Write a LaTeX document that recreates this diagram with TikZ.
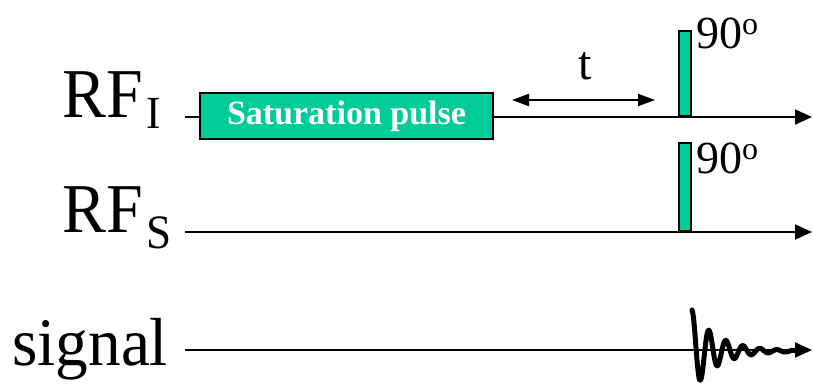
\documentclass[tikz,border=0pt]{standalone}
\usepackage{fontspec}
\setmainfont{Liberation Serif}
\usetikzlibrary{arrows.meta}
\definecolor{pulsegreen}{RGB}{0,204,153}
\begin{document}
\begin{tikzpicture}[x=1pt,y=-1pt,
  axis/.style={line width=2pt,-{Triangle[length=17pt,width=15pt]}},
  pulsebox/.style={draw=black,line width=2pt,fill=pulsegreen,inner sep=0pt},
  lbl/.style={anchor=base west,inner sep=0pt},
  tarrow/.style={line width=2pt,{Triangle[length=17pt,width=12pt]}-{Triangle[length=17pt,width=12pt]}},
]
\useasboundingbox (0,0) rectangle (813,386);
% axes
\coordinate (i0) at (185,117); \coordinate (i1) at (812,117);
\coordinate (s0) at (185,232); \coordinate (s1) at (812,232);
\coordinate (g0) at (185,350); \coordinate (g1) at (812,350);
\draw[axis] (i0) -- (i1);
\draw[axis] (s0) -- (s1);
\draw[axis] (g0) -- (g1);
% saturation pulse
\node[pulsebox, line width=2.5pt, minimum width=293pt, minimum height=46pt, text=white, font=\fontsize{34}{34}\selectfont\bfseries] (sat) at (346.5,116) {Saturation pulse};
% 90 degree pulses
\node[pulsebox, minimum width=12pt, minimum height=85pt, anchor=south west] (p1) at (678,117) {};
\node[pulsebox, minimum width=12pt, minimum height=88pt, anchor=south west] (p2) at (678,232) {};
\node[lbl] (d1) at (696,48) {\fontsize{46}{46}\selectfont 90\raisebox{14pt}{\fontsize{32}{32}\selectfont o}};
\node[lbl] (d2) at (696,173) {\fontsize{46}{46}\selectfont 90\raisebox{14pt}{\fontsize{32}{32}\selectfont o}};
% delay t
\coordinate (ta) at (512,100); \coordinate (tb) at (655,100);
\draw[tarrow] (ta) -- (tb);
\node[anchor=base,inner sep=0pt] (tl) at (585,79) {\fontsize{48}{48}\selectfont t};
% labels
\node[lbl, xscale=0.94] (rfi) at (62,117) {\fontsize{70}{70}\selectfont RF\hspace{4pt}\raisebox{-11pt}{\fontsize{46}{46}\selectfont I}};
\node[lbl, xscale=0.94] (rfs) at (62,232) {\fontsize{70}{70}\selectfont RF\hspace{4pt}\raisebox{-16pt}{\fontsize{48}{48}\selectfont S}};
\node[lbl, xscale=0.96] (sig) at (12,365) {\fontsize{68}{68}\selectfont signal};
% FID
\draw[line width=5pt, line cap=round, line join=round] plot[domain=0:110, samples=221] ({692+\x}, {351-41*exp(-0.04*\x)*cos(\x*21.1765)});
\end{tikzpicture}
\end{document}
